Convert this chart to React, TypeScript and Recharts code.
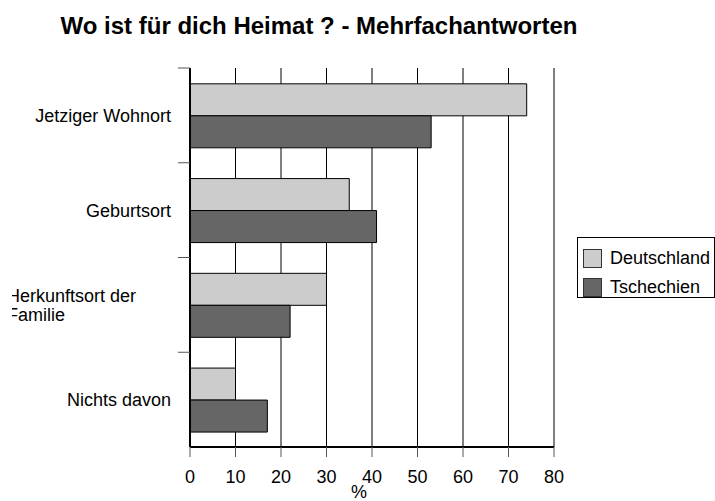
import { BarChart, Bar, XAxis, YAxis, CartesianGrid, Legend } from "recharts";

const categories = ["Jetziger Wohnort", "Geburtsort", "Herkunftsort der\nFamilie", "Nichts davon"];
const deutschland = [74, 35, 30, 10];
const tschechien = [53, 41, 22, 17];
const xTicks = [0, 10, 20, 30, 40, 50, 60, 70, 80];

const seriesNames = ["Deutschland", "Tschechien"];
const seriesColors = ["#cccccc", "#666666"];

const data = categories.map((c, i) => ({
  name: c,
  Deutschland: deutschland[i],
  Tschechien: tschechien[i],
}));

const W = 715;
const H = 501;
const margin = { top: 68, right: 161, bottom: 0, left: 0 };
const X_AXIS_H = 54;
const BAND = (H - margin.top - margin.bottom - X_AXIS_H) / categories.length;
const FONT = "'Liberation Sans', Arial, Helvetica, sans-serif";

const YTick = (props: any) => {
  const { x, y, payload, index } = props;
  const lines = String(payload.value).split("\n");
  const edge = y - BAND / 2;
  const lh = 19;
  const first = 6.4 - ((lines.length - 1) * lh) / 2;
  const multi = lines.length > 1;
  return (
    <g>
      <line x1={x - 12} x2={x} y1={edge} y2={edge} stroke="#555" strokeWidth={1} />
      {multi && (
        <defs>
          <clipPath id={`lblclip${index}`}>
            <rect x={12} y={y - BAND / 2} width={x} height={BAND} />
          </clipPath>
        </defs>
      )}
      <text
        fontSize={18}
        fontFamily={FONT}
        fill="#000"
        textAnchor={multi ? "start" : "end"}
        clipPath={multi ? `url(#lblclip${index})` : undefined}
      >
        {lines.map((l, i) => (
          <tspan key={i} x={multi ? 7 : x - 19} y={y + first + i * lh}>
            {l}
          </tspan>
        ))}
      </text>
    </g>
  );
};

const PercentLabel = (props: any) => {
  const vb = props.viewBox || {};
  return (
    <text
      x={vb.x + vb.width / 2 - 13}
      y={498}
      textAnchor="middle"
      fontSize={18}
      fontFamily={FONT}
      fill="#000"
    >
      %
    </text>
  );
};

const LegendBox = () => (
  <div
    style={{
      border: "1px solid #000",
      width: 138,
      height: 61,
      boxSizing: "border-box",
      padding: "6px 0 0 5px",
      fontFamily: FONT,
      fontSize: 18,
      background: "#fff",
    }}
  >
    {seriesNames.map((n, i) => (
      <div key={n} style={{ display: "flex", alignItems: "center", height: 29, whiteSpace: "nowrap" }}>
        <span
          style={{
            display: "inline-block",
            width: 17,
            height: 17,
            background: seriesColors[i],
            border: "1px solid #333",
            marginRight: 8,
          }}
        />
        <span>{n}</span>
      </div>
    ))}
  </div>
);

export default function App() {
  return (
    <div style={{ position: "absolute", left: 0, top: 0, width: W, height: H, background: "#fff" }}>
      <div
        style={{
          position: "absolute",
          left: 0,
          top: 14,
          width: 638,
          textAlign: "center",
          fontFamily: FONT,
          fontWeight: "bold",
          fontSize: 24,
          lineHeight: "24px",
          whiteSpace: "nowrap",
        }}
      >
        Wo ist für dich Heimat ? - Mehrfachantworten
      </div>
      <BarChart
        width={W}
        height={H}
        data={data}
        layout="vertical"
        margin={margin}
        barCategoryGap="16.7%"
        barGap={0}
      >
        <CartesianGrid horizontal={false} vertical={true} stroke="#000" strokeDasharray="" />
        <XAxis
          type="number"
          domain={[0, 80]}
          ticks={xTicks}
          interval={0}
          height={X_AXIS_H}
          tickSize={10}
          tickMargin={13}
          axisLine={{ stroke: "#000", strokeWidth: 2 }}
          tickLine={{ stroke: "#555" }}
          tick={{ fontSize: 18, fontFamily: FONT, fill: "#000" }}
          label={{ content: PercentLabel }}
        />
        <XAxis
          xAxisId="top"
          orientation="top"
          type="number"
          domain={[0, 80]}
          height={0}
          tick={false}
          tickLine={false}
          axisLine={{ stroke: "#777", strokeWidth: 1 }}
        />
        <YAxis
          type="category"
          dataKey="name"
          width={190}
          tickSize={0}
          tickMargin={0}
          tickLine={false}
          interval={0}
          axisLine={{ stroke: "#000", strokeWidth: 2 }}
          tick={<YTick />}
        />
        <Legend
          layout="horizontal"
          verticalAlign="middle"
          align="center"
          content={<LegendBox />}
          wrapperStyle={{ position: "absolute", left: 577, top: 237, width: 138, height: 61 }}
        />
        {seriesNames.map((n, i) => (
          <Bar
            key={n}
            dataKey={n}
            fill={seriesColors[i]}
            stroke="#000"
            strokeWidth={1}
            isAnimationActive={false}
          />
        ))}
      </BarChart>
    </div>
  );
}
